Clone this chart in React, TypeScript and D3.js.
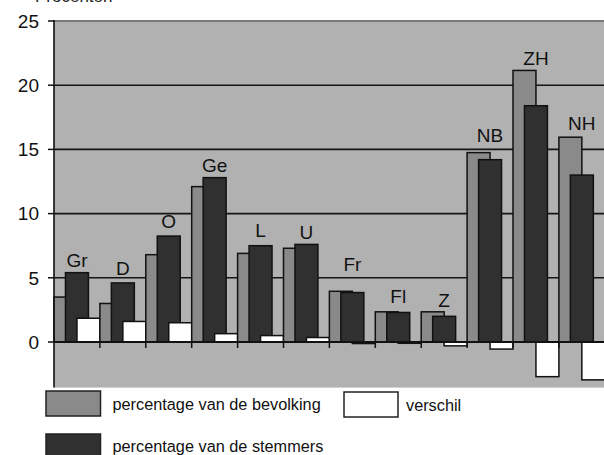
import React from "react";
import * as d3 from "d3";

const categories = ["Gr", "D", "O", "Ge", "L", "U", "Fr", "Fl", "Z", "NB", "ZH", "NH"];
const bevolking = [3.5, 3.0, 6.8, 12.1, 6.9, 7.3, 3.95, 2.35, 2.35, 14.75, 21.15, 15.95];
const stemmers = [5.4, 4.6, 8.25, 12.8, 7.5, 7.6, 3.85, 2.3, 2.0, 14.2, 18.4, 13.0];
const verschil = [1.85, 1.6, 1.5, 0.65, 0.5, 0.35, -0.12, -0.1, -0.3, -0.55, -2.7, -2.95];
const labelLevels = [5.87, 5.2, 8.9, 13.26, 8.15, 8.0, 5.55, 3.06, 2.75, 15.6, 21.57, 16.5];
const yTicks = [0, 5, 10, 15, 20, 25];
const legendItems = ["percentage van de bevolking", "verschil", "percentage van de stemmers"];

const W = 604;
const H = 455;
const left = 54;
const groupW = 45.9;
const top = 21;
const zeroY = 342;

const BG = "#b1b1b1";
const GRAY = "#8a8a8a";
const DARK = "#303030";
const WHITE = "#ffffff";
const FONT = "'Liberation Sans', Arial, sans-serif";

export default function App() {
  const x = d3
    .scaleBand<string>()
    .domain(categories)
    .range([left, left + groupW * categories.length])
    .paddingInner(0)
    .paddingOuter(0);
  const y = d3.scaleLinear().domain([0, 25]).range([zeroY, top]);
  const bottom = y(-3.55);
  const bw = x.bandwidth();

  const barRect = (v: number) => ({ y: Math.min(y(0), y(v)), h: Math.abs(y(v) - y(0)) });

  return (
    <svg
      width={W}
      height={H}
      style={{ position: "absolute", left: 0, top: 0, background: "#fff" }}
      fontFamily={FONT}
    >
      <text x={35} y={1.5} fontSize={17} fill="#222">
        Procenten
      </text>
      <rect x={left} y={top} width={W - left} height={bottom - top} fill={BG} />
      <line x1={left} x2={W} y1={top} y2={top} stroke="#7a7a7a" strokeWidth={2} />
      {yTicks
        .filter((t) => t !== 0 && t !== 25)
        .map((t) => (
          <line key={t} x1={left} x2={W} y1={y(t)} y2={y(t)} stroke="#151515" strokeWidth={1.6} />
        ))}
      {categories.map((c, i) => {
        const gx = x(c)!;
        const g = barRect(bevolking[i]);
        const d = barRect(stemmers[i]);
        const v = barRect(verschil[i]);
        return (
          <g key={c} stroke="#111" strokeWidth={1.5}>
            <rect x={gx} y={g.y} width={bw / 2} height={g.h} fill={GRAY} />
            <rect x={gx + bw / 4} y={d.y} width={bw / 2} height={d.h} fill={DARK} />
            <rect x={gx + bw / 2} y={v.y} width={bw / 2} height={v.h} fill={WHITE} />
          </g>
        );
      })}
      <line x1={left} x2={W} y1={y(0)} y2={y(0)} stroke="#111" strokeWidth={1.8} />
      {categories.map((c, i) => (
        <line key={"t" + c} x1={x(c)! + bw} x2={x(c)! + bw} y1={y(0)} y2={y(0) + 6} stroke="#111" strokeWidth={1.5} />
      ))}
      <line x1={left} x2={left} y1={top - 1} y2={bottom} stroke="#111" strokeWidth={1.6} />
      {yTicks.map((t) => (
        <g key={"y" + t}>
          <line x1={left - 6} x2={left} y1={y(t)} y2={y(t)} stroke="#111" strokeWidth={1.5} />
          <text x={39} y={y(t)} dy="0.36em" textAnchor="end" fontSize={19} fill="#111">
            {t}
          </text>
        </g>
      ))}
      {categories.map((c, i) => (
        <text key={"l" + c} x={x(c)! + bw / 2} y={y(labelLevels[i])} textAnchor="middle" fontSize={19} fill="#111">
          {c}
        </text>
      ))}
      <g stroke="#222" strokeWidth={1.5}>
        <rect x={46} y={391} width={54.5} height={25} fill={GRAY} />
        <rect x={344} y={392} width={54} height={25} fill={WHITE} />
        <rect x={46} y={434} width={54.5} height={25} fill={DARK} />
      </g>
      <text x={112.5} y={410} fontSize={16.3} fill="#111">
        {legendItems[0]}
      </text>
      <text x={406} y={411} fontSize={16.3} fill="#111">
        {legendItems[1]}
      </text>
      <text x={112.5} y={451.5} fontSize={16.3} fill="#111">
        {legendItems[2]}
      </text>
    </svg>
  );
}
